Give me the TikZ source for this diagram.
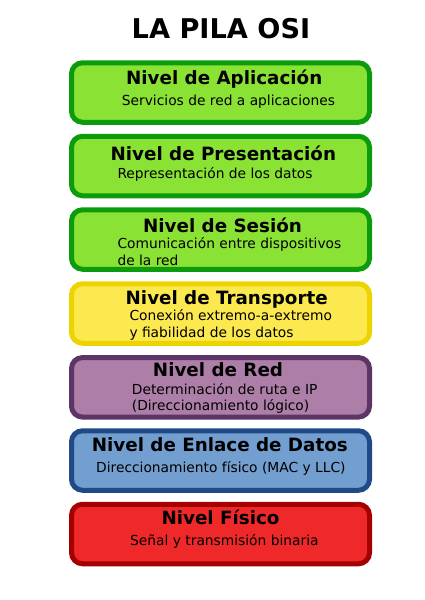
\documentclass[tikz,border=0pt]{standalone}
\usepackage{fontspec}
\setmainfont{DejaVu Sans}

\definecolor{greenfill}{HTML}{8AE234}
\definecolor{greenline}{HTML}{0C9B0C}
\definecolor{yellowfill}{HTML}{FCE94F}
\definecolor{yellowline}{HTML}{EDD400}
\definecolor{purplefill}{HTML}{AD7FA8}
\definecolor{purpleline}{HTML}{5C3566}
\definecolor{bluefill}{HTML}{729FCF}
\definecolor{blueline}{HTML}{204A87}
\definecolor{redfill}{HTML}{EF2929}
\definecolor{redline}{HTML}{A40000}

\tikzset{layer/.style={draw,line width=5pt,rounded corners=11pt,minimum width=298pt,minimum height=59.5pt,inner sep=0pt},
head/.style={font=\bfseries\fontsize{18.3}{20}\selectfont,anchor=base,inner sep=0pt},
sub/.style={font=\fontsize{13.8}{16.7}\selectfont,anchor=base west,align=left,inner sep=0pt}}

\begin{document}
\begin{tikzpicture}[x=1pt,y=-1pt]
\useasboundingbox (0,0) rectangle (424,600);
\node[font=\bfseries\fontsize{27.2}{30}\selectfont,anchor=base,inner sep=0pt] (title) at (221,38.3) {LA PILA OSI};

\node[layer,fill=greenfill,draw=greenline] (app) at (220.5,92.5) {};
\node[head] (app title) at (224.2,84.3) {Nivel de Aplicación};
\node[sub] (app text) at (121.7,105) {Servicios de red a aplicaciones};

\node[layer,fill=greenfill,draw=greenline] (pres) at (220.5,166) {};
\node[head] (pres title) at (223.3,160) {Nivel de Presentación};
\node[sub] (pres text) at (117.3,178.3) {Representación de los datos};

\node[layer,fill=greenfill,draw=greenline] (ses) at (220.5,239.5) {};
\node[head] (ses title) at (222.5,232.3) {Nivel de Sesión};
\node[sub] (ses text) at (117.3,265) {Comunicación entre dispositivos\\de la red};

\node[layer,fill=yellowfill,draw=yellowline] (trans) at (220.5,313.5) {};
\node[head] (trans title) at (226.7,304.3) {Nivel de Transporte};
\node[sub] (trans text) at (129.3,337.3) {Conexión extremo-a-extremo\\y fiabilidad de los datos};

\node[layer,fill=purplefill,draw=purpleline] (red) at (220.5,387.3) {};
\node[head] (red title) at (218,376.7) {Nivel de Red};
\node[sub] (red text) at (131.7,410.7) {Determinación de ruta e IP\\(Direccionamiento lógico)};

\node[layer,fill=bluefill,draw=blueline] (enl) at (220.5,460.5) {};
\node[head] (enl title) at (219.8,451.7) {Nivel de Enlace de Datos};
\node[sub] (enl text) at (96,472.3) {Direccionamiento físico (MAC y LLC)};

\node[layer,fill=redfill,draw=redline] (fis) at (220.5,534) {};
\node[head] (fis title) at (220.5,524.3) {Nivel Físico};
\node[sub] (fis text) at (130,545) {Señal y transmisión binaria};
\end{tikzpicture}
\end{document}
